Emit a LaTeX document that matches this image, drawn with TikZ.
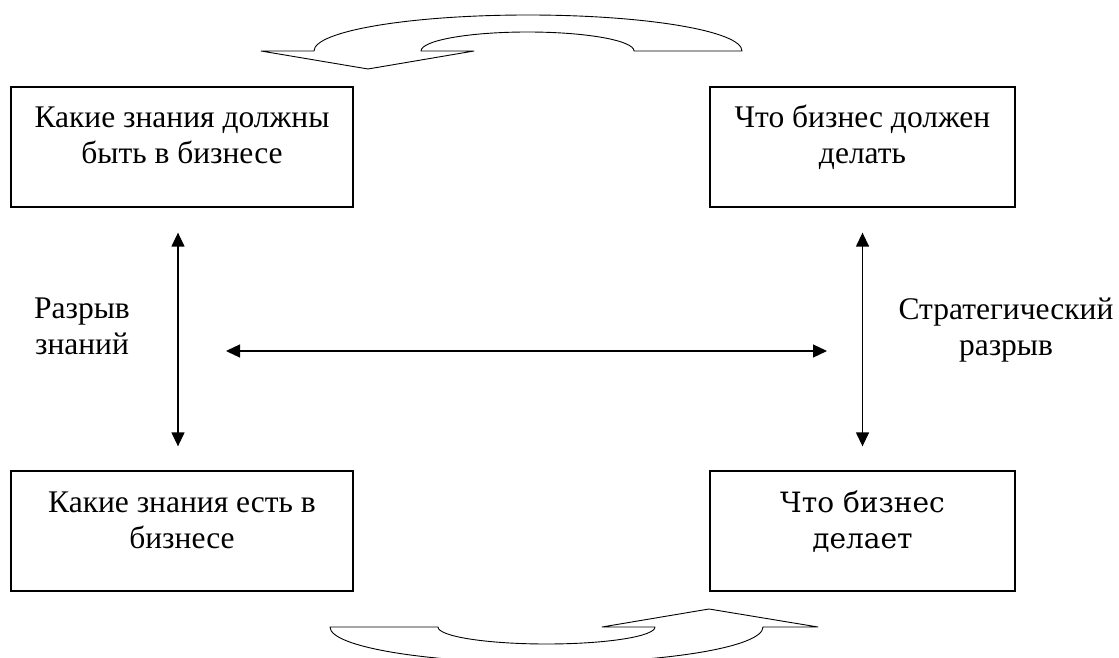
\documentclass[tikz,border=0pt]{standalone}
\usepackage{fontspec}
\setmainfont{Liberation Serif}
\newfontfamily\boxfont{DejaVu Serif}
\usetikzlibrary{arrows.meta,positioning,calc}

\begin{document}
\begin{tikzpicture}[x=1pt,y=1pt,
    font=\fontsize{31.5}{36}\selectfont,
    box/.style={draw, line width=1.3pt, minimum height=120pt, inner sep=0pt,
        align=center, text height=54pt, text depth=20pt},
    gap/.style={{Triangle[length=14pt,width=13pt]}-{Triangle[length=14pt,width=13pt]}, line width=1.3pt},
    turn/.style={draw, line width=0.9pt, line join=round}]
    \useasboundingbox (0,0) rectangle (1119,657);

    % boxes
    \node[box, minimum width=342pt] (kzd) at (182,510) {Какие знания должны\\быть в бизнесе};
    \node[box, minimum width=305pt] (chd) at (862.5,510) {Что бизнес должен\\делать};
    \node[box, minimum width=342pt] (kze) at (182,126) {Какие знания есть в\\бизнесе};
    \node[box, minimum width=305pt, font=\boxfont\fontsize{28}{36}\selectfont] (chde) at (862.5,126) {Что бизнес\\делает};

    % labels
    \node[align=center] (rz) at (82,331) {Разрыв\\знаний};
    \node[align=center] (sr) at (1006,327) {Стратегический\\разрыв};

    % gaps
    \draw[gap, shorten <=25pt, shorten >=24pt] ([xshift=-4pt]kzd.south) -- ([xshift=-4pt]kze.north);
    \draw[gap, shorten <=25pt, shorten >=24pt] (chd.south) -- (chde.north);
    \coordinate (gl) at (226,306);
    \coordinate (gr) at (827,306);
    \draw[gap] (gl) -- (gr);

    % turning arrows
    \draw[turn] (261,606) -- (314,606) arc[start angle=180, end angle=0, x radius=214, y radius=36]
        -- (634,606) arc[start angle=0, end angle=180, x radius=106.5, y radius=19]
        -- (474,606) -- (368,588) -- cycle;
    \draw[turn] (330,30) -- (438,30) arc[start angle=180, end angle=360, x radius=108.5, y radius=17]
        -- (602,30) -- (709,48) -- (818,30) -- (763,30)
        arc[start angle=0, end angle=-180, x radius=216.5, y radius=36] -- cycle;
\end{tikzpicture}
\end{document}
